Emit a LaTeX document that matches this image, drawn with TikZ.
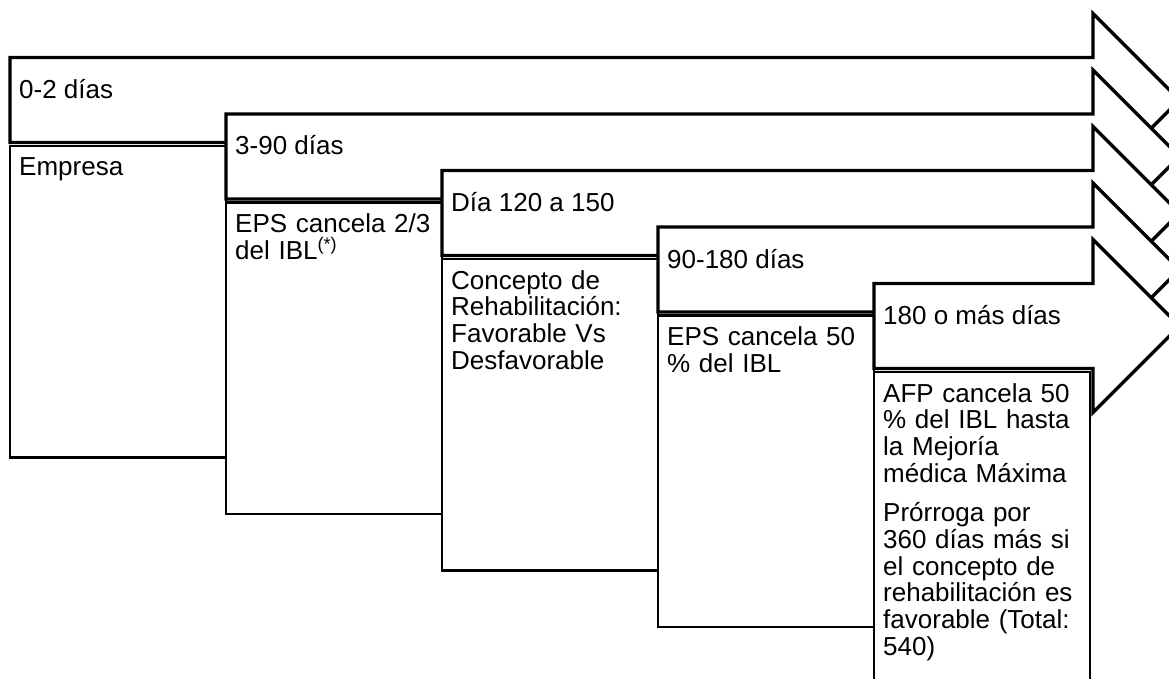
\documentclass[tikz,border=0pt]{standalone}
\usepackage{fontspec}
\setmainfont{Liberation Sans}
\usetikzlibrary{positioning}

\begin{document}
\begin{tikzpicture}[x=1pt,y=-1pt,
        stage/.style={draw,line width=3.3pt,fill=white},
        panel/.style={draw,line width=2.2pt},
        lbl/.style={anchor=base west,inner sep=0pt,font=\fontsize{26}{26.7}\selectfont},
        txt/.style={anchor=base west,inner sep=0pt,text width=210pt,align=left,
                    font=\fontsize{26}{26.7}\selectfont}]

        \useasboundingbox (0,0) rectangle (1169,679);
        \clip (0,0) rectangle (1169,679);

        \foreach \k/\lab/\body in {
                0/{0-2 días}/{Empresa},
                1/{3-90 días}/{EPS cancela 2/3\\del IBL\textsuperscript{(*)}},
                2/{Día 120 a 150}/{Concepto de\\Rehabilitación:\\Favorable Vs\\Desfavorable},
                3/{90-180 días}/{EPS cancela 50\\\% del IBL},
                4/{180 o más días}/{AFP cancela 50\\\% del IBL hasta\\la Mejoría\\médica Máxima\\[13pt]
                    Prórroga por\\360 días más si\\el concepto de\\rehabilitación es\\favorable (Total:\\540)}}
        {
            \pgfmathsetmacro\x{10+216*\k}
            \pgfmathsetmacro\t{57.5+56.5*\k}
            \pgfmathsetmacro\b{\t+85}
            \draw[panel] (\x,{\b+3.5}) rectangle ({\x+216},{\b+315});
            \node[txt] (body\k) at ({\x+9},{\b+33.5}) {\body};
            \draw[stage] (\x,\t) -- (1093,\t) -- (1093,{\t-44}) -- (1179.5,{\t+42.5})
                -- (1093,{\t+129}) -- (1093,\b) -- (\x,\b) -- cycle;
            \node[lbl] (lab\k) at ({\x+9},{\t+41}) {\lab};
        }
    \end{tikzpicture}
\end{document}
